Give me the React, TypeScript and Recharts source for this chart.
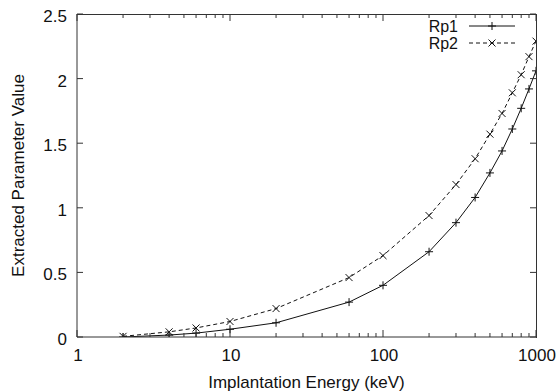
import { Legend, Line, LineChart, XAxis, YAxis } from 'recharts';

// implantation energies (keV) and extracted parameter values
const energies = [2, 4, 6, 10, 20, 60, 100, 200, 300, 400, 500, 600, 700, 800, 900, 1000];
const rp1 = [0, 0.015, 0.03, 0.06, 0.11, 0.27, 0.4, 0.66, 0.885, 1.08, 1.27, 1.44, 1.61, 1.77, 1.92, 2.06];
const rp2 = [0.005, 0.04, 0.07, 0.12, 0.22, 0.46, 0.63, 0.94, 1.18, 1.38, 1.57, 1.73, 1.89, 2.03, 2.17, 2.29];

const seriesNames = ['Rp1', 'Rp2'];
const xMajorTicks = [1, 10, 100, 1000];
const xMinorTicks = [2, 3, 4, 5, 6, 7, 8, 9, 20, 30, 40, 50, 60, 70, 80, 90, 200, 300, 400, 500, 600, 700, 800, 900];
const yTicks = [0, 0.5, 1, 1.5, 2, 2.5];

const data = energies.map((e, i) => ({ energy: e, rp1: rp1[i], rp2: rp2[i] }));
const xAllTicks = [...xMajorTicks, ...xMinorTicks].sort((a, b) => a - b);
const X_MIN = 1;
const X_MAX = 1000;
const Y_MIN = 0;
const Y_MAX = 2.5;

// layout
const W = 556;
const H = 392;
const MARGIN = { top: 14, right: 20, bottom: 0, left: 0 };
const Y_AXIS_W = 77;
const X_AXIS_H = 55;
const PLOT_TOP = MARGIN.top;
const PLOT_RIGHT = W - MARGIN.right;
const PLOT_LEFT = MARGIN.left + Y_AXIS_W;
const PLOT_BOTTOM = H - MARGIN.bottom - X_AXIS_H;

const INK = '#111';
const FRAME = '#333';
const FONT = '"Liberation Sans", Arial, sans-serif';
const MAJOR = 7;
const MINOR = 4;
const Y_TICK = 6;

const PlusDot = (props: any) => {
  const { cx, cy } = props;
  if (cx == null || cy == null) return <g />;
  return (
    <path d={`M${cx - 4},${cy}H${cx + 4}M${cx},${cy - 4}V${cy + 4}`} stroke={INK} strokeWidth={1} fill="none" />
  );
};

const CrossDot = (props: any) => {
  const { cx, cy } = props;
  if (cx == null || cy == null) return <g />;
  return (
    <path
      d={`M${cx - 3.5},${cy - 3.5}L${cx + 3.5},${cy + 3.5}M${cx - 3.5},${cy + 3.5}L${cx + 3.5},${cy - 3.5}`}
      stroke={INK}
      strokeWidth={1}
      fill="none"
    />
  );
};

// x ticks: inward on bottom and mirrored on top (tickSize/tickMargin 0, so x,y arrive on the bottom edge)
const BottomTick = (props: any) => {
  const { x, y, payload } = props;
  const major = xMajorTicks.includes(payload.value);
  const len = major ? MAJOR : MINOR;
  return (
    <g>
      <line x1={x} x2={x} y1={y} y2={y - len} stroke={FRAME} />
      <line x1={x} x2={x} y1={PLOT_TOP} y2={PLOT_TOP + len} stroke={FRAME} />
      {major && (
        <text x={x + 1} y={y + 24} textAnchor="middle" fontSize={17} fontFamily={FONT} fill={INK}>
          {payload.value}
        </text>
      )}
    </g>
  );
};

// y ticks: inward on left and mirrored on right
const LeftTick = (props: any) => {
  const { x, y, payload } = props;
  return (
    <g>
      <line x1={x} x2={x + Y_TICK} y1={y} y2={y} stroke={FRAME} />
      <line x1={PLOT_RIGHT} x2={PLOT_RIGHT - Y_TICK} y1={y} y2={y} stroke={FRAME} />
      <text x={x - 10} y={y + 8} textAnchor="end" fontSize={17} fontFamily={FONT} fill={INK}>
        {payload.value}
      </text>
    </g>
  );
};

function KeyBox() {
  return (
    <svg width={130} height={40} style={{ display: 'block' }}>
      <text x={58} y={18} textAnchor="end" fontSize={16} fontFamily={FONT} fill={INK}>
        {seriesNames[0]}
      </text>
      <line x1={69} x2={115} y1={12} y2={12} stroke={INK} strokeWidth={1} />
      <PlusDot cx={92} cy={12} />
      <text x={58} y={35} textAnchor="end" fontSize={16} fontFamily={FONT} fill={INK}>
        {seriesNames[1]}
      </text>
      <line x1={69} x2={115} y1={29} y2={29} stroke={INK} strokeWidth={1} strokeDasharray="4 3" />
      <CrossDot cx={92} cy={29} />
    </svg>
  );
}

export default function App() {
  const frame = { stroke: FRAME };

  return (
    <div style={{ position: 'absolute', left: 0, top: 0, width: W, height: H, background: '#fff' }}>
      <LineChart width={W} height={H} data={data} margin={MARGIN}>
        <XAxis
          dataKey="energy"
          type="number"
          scale="log"
          domain={[X_MIN, X_MAX]}
          allowDataOverflow
          ticks={xAllTicks}
          interval={0}
          tickSize={0}
          tickMargin={0}
          height={X_AXIS_H}
          tick={BottomTick}
          axisLine={frame}
          tickLine={false}
          label={{
            value: 'Implantation Energy (keV)',
            position: 'center',
            dy: 17,
            style: { fontSize: 17, fontFamily: FONT, fill: INK },
          }}
        />
        <YAxis
          type="number"
          domain={[Y_MIN, Y_MAX]}
          allowDataOverflow
          ticks={yTicks}
          interval={0}
          tickSize={0}
          tickMargin={0}
          width={Y_AXIS_W}
          tick={LeftTick}
          axisLine={frame}
          tickLine={false}
          label={{
            value: 'Extracted Parameter Value',
            angle: -90,
            position: 'center',
            dx: -21,
            style: { fontSize: 17, fontFamily: FONT, fill: INK, textAnchor: 'middle' },
          }}
        />
        <Legend
          layout="horizontal"
          verticalAlign="middle"
          align="center"
          wrapperStyle={{ top: 14, left: 400, width: 130, height: 40 }}
          content={() => <KeyBox />}
        />
        <Line
          dataKey="rp1"
          name={seriesNames[0]}
          stroke={INK}
          strokeWidth={1}
          dot={PlusDot}
          activeDot={false}
          isAnimationActive={false}
        />
        <Line
          dataKey="rp2"
          name={seriesNames[1]}
          stroke={INK}
          strokeWidth={1}
          strokeDasharray="4 3"
          dot={CrossDot}
          activeDot={false}
          isAnimationActive={false}
        />
      </LineChart>
      {/* top and right sides of the plot frame */}
      <div
        style={{
          position: 'absolute',
          pointerEvents: 'none',
          left: PLOT_LEFT,
          top: PLOT_TOP - 0.5,
          width: PLOT_RIGHT - PLOT_LEFT - 0.5,
          height: PLOT_BOTTOM - PLOT_TOP,
          borderTop: `1px solid ${FRAME}`,
          borderRight: `1px solid ${FRAME}`,
        }}
      />
    </div>
  );
}
